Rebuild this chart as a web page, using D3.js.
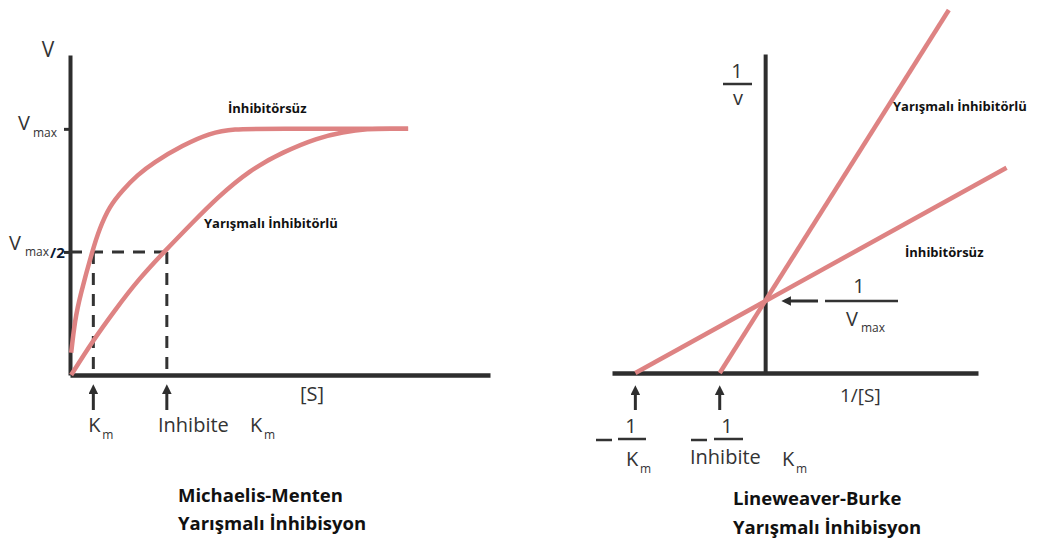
<!DOCTYPE html>
<html>
<head>
<meta charset="utf-8">
<script src="https://cdn.jsdelivr.net/npm/d3@7"></script>
<style>
  html, body { margin: 0; padding: 0; background: #fff; }
</style>
</head>
<body>
<script>
// Michaelis-Menten curves ([S], v / Vmax)
const mmNoInhibS = [0.05, 0.21, 0.43, 0.97, 1.26, 1.68, 2.26, 2.9, 3.54, 4.84, 6.0, 6.99, 8.5, 14.49];
const mmNoInhibV = [0.09, 0.223, 0.321, 0.508, 0.593, 0.684, 0.752, 0.813, 0.861, 0.934, 0.983, 1.0, 1.0, 1.0];
const mmCompS = [0.05, 0.94, 1.93, 2.91, 4.07, 5.23, 6.3, 7.71, 9.13, 10.59, 11.7, 12.73, 13.8, 14.49];
const mmCompV = [0, 0.134, 0.264, 0.386, 0.504, 0.617, 0.72, 0.833, 0.906, 0.963, 0.987, 1.0, 1.0, 1.0];
const mmKm = [1, 4.15];
const mmTicks = [1, 0.5];

// Lineweaver-Burke lines (1/[S], 1/v), end points
const lbNoInhibX = [-1, 1.86];
const lbNoInhibY = [0, 2.85];
const lbCompX = [-0.35, 1.415];
const lbCompY = [0, 5.04];
const lbIntercept = 1;

const width = 1039;
const height = 546;
const red = "#de8383";
const axisColor = "#2e2e2e";
const lightFont = "'Open Sans', sans-serif";
const boldFont = "'Open Sans', sans-serif";

const svg = d3.select("body").append("svg")
  .attr("width", width)
  .attr("height", height);

// Arrow head marker
svg.append("defs").append("marker")
  .attr("id", "arrow")
  .attr("viewBox", "0 0 10 10")
  .attr("refX", 1)
  .attr("refY", 5)
  .attr("markerWidth", 3.2)
  .attr("markerHeight", 3.2)
  .attr("orient", "auto-start-reverse")
  .append("path")
  .attr("d", "M0,0 L10,5 L0,10 Z")
  .attr("fill", axisColor);

function addText(x, y, txt, size, opts = {}) {
  return svg.append("text")
    .attr("x", x)
    .attr("y", y)
    .attr("text-anchor", opts.anchor || "start")
    .attr("fill", opts.fill || "#333")
    .attr("font-size", size)
    .attr("font-weight", opts.weight || 400)
    .style("font-family", opts.bold ? boldFont : lightFont)
    .text(txt);
}

function arrow(x1, y1, x2, y2) {
  svg.append("line")
    .attr("x1", x1).attr("y1", y1)
    .attr("x2", x2).attr("y2", y2)
    .attr("stroke", axisColor)
    .attr("stroke-width", 3)
    .attr("marker-end", "url(#arrow)");
}

// ---------- Left: Michaelis-Menten ----------
const xL = d3.scaleLinear().domain([0, 18]).range([70, 490]);
const yL = d3.scaleLinear().domain([0, 1.3]).range([375, 55]);

const leftAxisY = svg.append("g")
  .attr("transform", `translate(${xL(0)},0)`)
  .call(d3.axisLeft(yL).tickValues(mmTicks).tickFormat("").tickSize(6).tickSizeOuter(0));
leftAxisY.select(".domain").attr("stroke", axisColor).attr("stroke-width", 4);
leftAxisY.selectAll(".tick line").attr("stroke", axisColor).attr("stroke-width", 3);

const leftAxisX = svg.append("g")
  .attr("transform", `translate(0,${yL(0)})`)
  .call(d3.axisBottom(xL).tickValues([]).tickSizeOuter(0));
leftAxisX.select(".domain").attr("stroke", axisColor).attr("stroke-width", 4.5);

// Dashed guides at Vmax/2
svg.append("line")
  .attr("x1", xL(0)).attr("y1", yL(0.5))
  .attr("x2", xL(mmKm[1])).attr("y2", yL(0.5))
  .attr("stroke", "#333").attr("stroke-width", 3)
  .attr("stroke-dasharray", "12,9");
mmKm.forEach(k => {
  svg.append("line")
    .attr("x1", xL(k)).attr("y1", yL(0.5))
    .attr("x2", xL(k)).attr("y2", yL(0))
    .attr("stroke", "#333").attr("stroke-width", 3)
    .attr("stroke-dasharray", "12,9");
  arrow(xL(k), 410, xL(k), 393);
});

// Curves
const lineL = d3.line().x(d => xL(d[0])).y(d => yL(d[1])).curve(d3.curveBasis);
svg.append("path")
  .datum(d3.zip(mmNoInhibS, mmNoInhibV))
  .attr("d", lineL)
  .attr("fill", "none").attr("stroke", red).attr("stroke-width", 4.5);
svg.append("path")
  .datum(d3.zip(mmCompS, mmCompV))
  .attr("d", lineL)
  .attr("fill", "none").attr("stroke", red).attr("stroke-width", 4.5);

// Axis labels
addText(48, 57, "V", 21, { anchor: "middle" });
addText(18, 130, "V", 20);
addText(33, 137, "max", 12);
addText(9, 250, "V", 20);
addText(25, 256, "max", 12);
addText(50, 258, "/2", 15, { weight: 700, fill: "#0b1a33" });
addText(xL(mmKm[0]) - 5, 432, "K", 20);
addText(xL(mmKm[0]) + 9, 439, "m", 12);
addText(158, 432, "Inhibite", 20);
addText(250, 432, "K", 20);
addText(264, 439, "m", 12);
addText(300, 401, "[S]", 20);

// Curve labels
addText(228, 113, "İnhibitörsüz", 13, { weight: 700, fill: "#111", bold: true });
addText(204, 228, "Yarışmalı İnhibitörlü", 13, { weight: 700, fill: "#111", bold: true });

// Title
addText(178, 502, "Michaelis-Menten", 18.5, { weight: 700, fill: "#111", bold: true });
addText(178, 530, "Yarışmalı İnhibisyon", 18.5, { weight: 700, fill: "#111", bold: true });

// ---------- Right: Lineweaver-Burke ----------
const xR = d3.scaleLinear().domain([-1.18, 1.64]).range([612, 978]);
const yR = d3.scaleLinear().domain([0, 4.43]).range([373, 54]);

const rightAxisY = svg.append("g")
  .attr("transform", `translate(${xR(0)},0)`)
  .call(d3.axisLeft(yR).tickValues([]).tickSizeOuter(0));
rightAxisY.select(".domain").attr("stroke", axisColor).attr("stroke-width", 4);

const rightAxisX = svg.append("g")
  .attr("transform", `translate(0,${yR(0)})`)
  .call(d3.axisBottom(xR).tickValues([]).tickSizeOuter(0));
rightAxisX.select(".domain").attr("stroke", axisColor).attr("stroke-width", 4.5);

const lineR = d3.line().x(d => xR(d[0])).y(d => yR(d[1]));
svg.append("path")
  .datum(d3.zip(lbNoInhibX, lbNoInhibY))
  .attr("d", lineR)
  .attr("fill", "none").attr("stroke", red).attr("stroke-width", 4.5);
svg.append("path")
  .datum(d3.zip(lbCompX, lbCompY))
  .attr("d", lineR)
  .attr("fill", "none").attr("stroke", red).attr("stroke-width", 4.5);

// 1/v label
addText(737, 78, "1", 20, { anchor: "middle" });
svg.append("line").attr("x1", 723).attr("x2", 752).attr("y1", 84).attr("y2", 84)
  .attr("stroke", "#333").attr("stroke-width", 2.5);
addText(738, 105, "v", 20, { anchor: "middle" });

// 1/Vmax with arrow
arrow(818, yR(lbIntercept), 790, yR(lbIntercept));
svg.append("line").attr("x1", 825).attr("x2", 898)
  .attr("y1", yR(lbIntercept)).attr("y2", yR(lbIntercept))
  .attr("stroke", "#333").attr("stroke-width", 2.5);
addText(859, 293, "1", 20, { anchor: "middle" });
addText(846, 326, "V", 20);
addText(861, 332, "max", 12);

// 1/[S]
addText(840, 402, "1/[S]", 19);

// Intercept arrows and labels
[lbNoInhibX[0], lbCompX[0]].forEach(v => arrow(xR(v), 410, xR(v), 394));

svg.append("line").attr("x1", 596).attr("x2", 612).attr("y1", 440).attr("y2", 440)
  .attr("stroke", "#333").attr("stroke-width", 2.5);
svg.append("line").attr("x1", 618).attr("x2", 646).attr("y1", 439).attr("y2", 439)
  .attr("stroke", "#333").attr("stroke-width", 2.5);
addText(631, 433, "1", 20, { anchor: "middle" });
addText(626, 466, "K", 20);
addText(640, 473, "m", 12);

svg.append("line").attr("x1", 691).attr("x2", 707).attr("y1", 440).attr("y2", 440)
  .attr("stroke", "#333").attr("stroke-width", 2.5);
svg.append("line").attr("x1", 714).attr("x2", 743).attr("y1", 439).attr("y2", 439)
  .attr("stroke", "#333").attr("stroke-width", 2.5);
addText(727, 433, "1", 20, { anchor: "middle" });
addText(690, 464, "Inhibite", 20);
addText(782, 466, "K", 20);
addText(796, 473, "m", 12);

// Line labels
addText(893, 111, "Yarışmalı İnhibitörlü", 13, { weight: 700, fill: "#111", bold: true });
addText(905, 257, "İnhibitörsüz", 13, { weight: 700, fill: "#111", bold: true });

// Title
addText(733, 505, "Lineweaver-Burke", 18.5, { weight: 700, fill: "#111", bold: true });
addText(733, 534, "Yarışmalı İnhibisyon", 18.5, { weight: 700, fill: "#111", bold: true });
</script>
</body>
</html>
